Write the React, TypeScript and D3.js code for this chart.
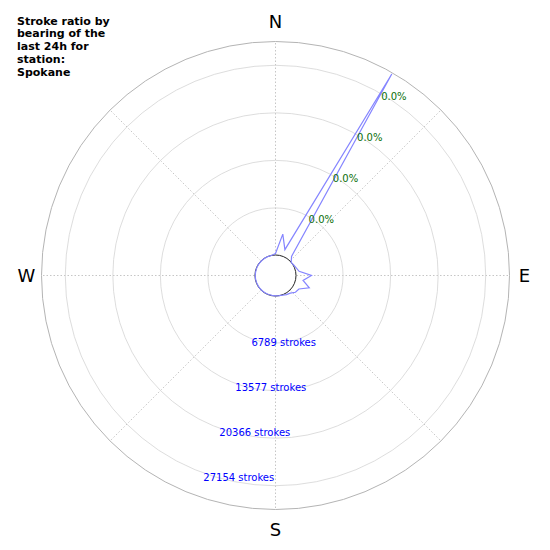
import React from "react";
import * as d3 from "d3";

const bearings = [0, 10, 20, 30, 40, 50, 60, 70, 80, 90, 100, 110, 120, 130, 140, 150, 160, 170,
  180, 190, 200, 210, 220, 230, 240, 250, 260, 270, 280, 290, 300, 310, 320, 330, 340, 350];
const strokes = [290, 3140, 1070, 30350, 710, 70, 140, 290, 570, 2280, 1140, 2280, 1000, 860, 430, 290, 140, 70,
  40, 30, 30, 30, 40, 40, 30, 30, 40, 40, 30, 30, 40, 40, 50, 50, 60, 80];
const rMaxValue = 30550;
const strokeTicks = [6789, 13577, 20366, 27154];
const percentLabels = ["0.0%", "0.0%", "0.0%", "0.0%"];
const compass = [
  { label: "N", bearing: 0 },
  { label: "E", bearing: 90 },
  { label: "S", bearing: 180 },
  { label: "W", bearing: 270 },
];
const titleLines = ["Stroke ratio by", "bearing of the", "last 24h for", "station:", "Spokane"];

export default function App() {
  const W = 550, H = 550;
  const cx = 275.5, cy = 275.5;
  const innerR = 20, outerR = 234;
  const r = d3.scaleLinear().domain([0, rMaxValue]).range([innerR, outerR]);
  const toRad = (deg: number) => (deg * Math.PI) / 180;
  const pt = (bearing: number, rad: number) => [rad * Math.sin(toRad(bearing)), -rad * Math.cos(toRad(bearing))];

  const line = d3
    .lineRadial<number>()
    .angle((_, i) => toRad(bearings[i]))
    .radius((d) => r(d))
    .curve(d3.curveLinearClosed);

  const spokes = [0, 45, 90, 135, 180, 225, 270, 315];

  return (
    <svg width={W} height={H} style={{ position: "absolute", left: 0, top: 0, background: "#fff" }}
      fontFamily="DejaVu Sans">
      <g transform={`translate(${cx},${cy})`}>
        {spokes.map((b) => {
          const [x, y] = pt(b, outerR);
          return <line key={b} x1={0} y1={0} x2={x} y2={y} stroke="#b8b8b8" strokeWidth={0.8} strokeDasharray="1.5,2" />;
        })}
        {strokeTicks.map((t) => (
          <circle key={t} r={r(t)} fill="none" stroke="#d4d4d4" strokeWidth={0.8} />
        ))}
        <circle r={outerR} fill="none" stroke="#b4b4b4" strokeWidth={1} />
        <circle r={innerR + 0.5} fill="#fff" stroke="#222" strokeWidth={1} />
        <path d={line(strokes) || ""} fill="none" stroke="#8585ff" strokeWidth={1.2} strokeLinejoin="miter" />
        {strokeTicks.map((t, i) => {
          const [x, y] = pt(30.6, r(t) - 2.5);
          return (
            <text key={"p" + t} x={x} y={y} fill="#0a6e0a" fontSize={10} dominantBaseline="central">
              {percentLabels[i]}
            </text>
          );
        })}
        {strokeTicks.map((t) => {
          const [x, y] = pt(199.7, r(t) + 4);
          return (
            <text key={"s" + t} x={x} y={y} fill="#0000ff" fontSize={10} dominantBaseline="central">
              {`${t} strokes`}
            </text>
          );
        })}
        {compass.map((c) => {
          const rad = c.bearing % 180 === 0 ? 254 : 249;
          const [x, y] = pt(c.bearing, rad);
          return (
            <text key={c.label} x={x} y={y} fontSize={18} textAnchor="middle" dominantBaseline="central" fill="#000">
              {c.label}
            </text>
          );
        })}
      </g>
      {titleLines.map((l, i) => (
        <text key={l} x={17} y={24.5 + i * 12.9} fontSize={11} fontWeight="bold" fill="#000">
          {l}
        </text>
      ))}
    </svg>
  );
}
